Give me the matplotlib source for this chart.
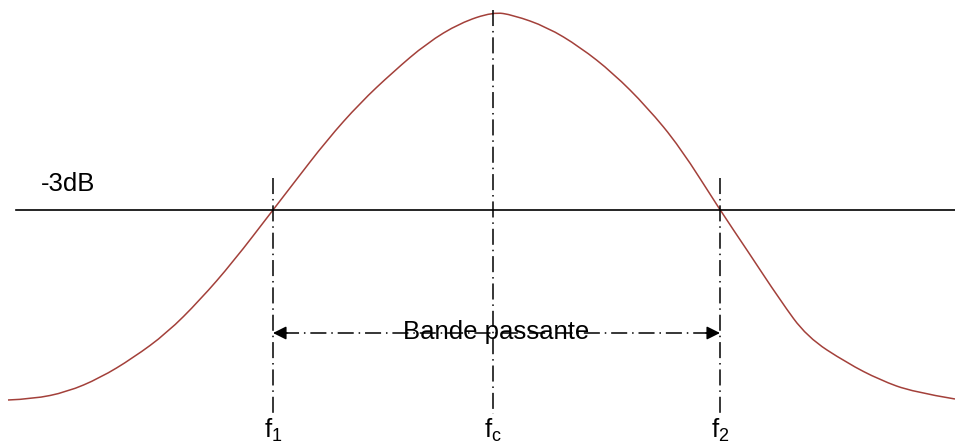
import matplotlib.pyplot as plt
from matplotlib.path import Path
from matplotlib.patches import PathPatch

plt.rcParams['font.family'] = ['Liberation Sans', 'DejaVu Sans']
plt.rcParams['mathtext.fontset'] = 'custom'
plt.rcParams['mathtext.rm'] = 'Liberation Sans'
plt.rcParams['mathtext.it'] = 'Liberation Sans'

# gain curve (pixel-like units, y down)
curve_x = [8, 33, 67, 100, 133, 167, 200, 233, 273, 293, 327, 360, 393, 427, 460, 493,
           513, 547, 580, 613, 647, 680, 720, 747, 780, 807, 847, 880, 913, 955]
curve_y = [400, 399, 392, 378, 358, 333, 300, 262, 210, 184, 140, 103, 72, 43, 23, 12,
           15, 27, 47, 73, 107, 147, 210, 250, 300, 337, 363, 380, 392, 399]

level_3db = 210
freq_pos = [273, 493, 720]
freq_labels = ['f$_1$', 'f$_\\mathrm{c}$', 'f$_2$']
freq_top = [178, 10, 178]
band_y = 333

fig = plt.figure(figsize=(9.55, 4.45), dpi=100)
ax = fig.add_axes([0, 0, 1, 1])
ax.set_xlim(0, 955)
ax.set_ylim(445, 0)
ax.axis('off')

dashdot = (0, (10.5, 3.2, 1, 3.2))
fs = 18.5

ax.plot([16, 955], [level_3db, level_3db], color='black', lw=1.2)
ax.text(41, 184, '-3dB', fontsize=fs, va='center', ha='left')

for x, top, lab in zip(freq_pos, freq_top, freq_labels):
    ax.plot([x, x], [top, 414], color='black', lw=1.1, linestyle=dashdot)
    ax.text(x, 438, lab, fontsize=fs, ha='center', va='baseline')

# smooth the read points with quadratic segments (points as control points)
pts = list(zip(curve_x, curve_y))
verts = [pts[0]]
codes = [Path.MOVETO]
for i in range(1, len(pts) - 1):
    nxt = pts[i + 1] if i + 1 == len(pts) - 1 else ((pts[i][0] + pts[i + 1][0]) / 2, (pts[i][1] + pts[i + 1][1]) / 2)
    verts += [pts[i], nxt]
    codes += [Path.CURVE3, Path.CURVE3]
ax.add_patch(PathPatch(Path(verts, codes), fill=False, edgecolor='#A3403A', lw=1.1))

# bande passante arrow
ax.plot([freq_pos[0] + 10, freq_pos[2] - 10], [band_y, band_y], color='black', lw=1.1, linestyle=dashdot)
for x0, x1 in [(freq_pos[0] + 14, freq_pos[0]), (freq_pos[2] - 14, freq_pos[2])]:
    ax.annotate('', xy=(x1, band_y), xytext=(x0, band_y),
                arrowprops=dict(arrowstyle='-|>,head_length=0.8,head_width=0.4',
                                color='black', lw=1.1, shrinkA=0, shrinkB=0))
ax.text(496, 332, 'Bande passante', fontsize=fs, ha='center', va='center')

fig.savefig('out.png', dpi=100)
